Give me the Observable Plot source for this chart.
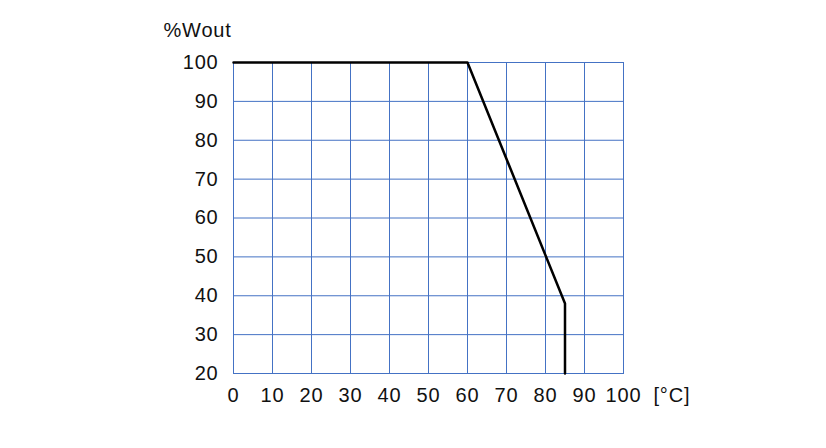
<!DOCTYPE html>
<html>
<head>
<meta charset="utf-8">
<script src="https://cdn.jsdelivr.net/npm/d3@7"></script>
<script src="https://cdn.jsdelivr.net/npm/@observablehq/plot@0.6"></script>
<style>
  html, body { margin: 0; padding: 0; background: #fff; }
  svg { font-family: "Liberation Sans", Arial, sans-serif; letter-spacing: 0.8px; }
</style>
</head>
<body>
<div id="chart"></div>
<script>
const temperature = [0, 60, 85, 85];
const outputPct = [100, 100, 38, 20];
const xTicks = [0, 10, 20, 30, 40, 50, 60, 70, 80, 90, 100];
const yTicks = [20, 30, 40, 50, 60, 70, 80, 90, 100];
const yTitle = "%Wout";
const xUnit = "[°C]";

const data = temperature.map((t, i) => ({t, p: outputPct[i]}));
const gridColor = "#4472c4";

const chart = Plot.plot({
  width: 826,
  height: 448,
  marginLeft: 233,
  marginRight: 203,
  marginTop: 62,
  marginBottom: 75,
  style: {fontSize: "20px", fontFamily: "'Liberation Sans', Arial, sans-serif", color: "#111"},
  x: {domain: [0, 100], ticks: xTicks, label: null, tickSize: 0, tickPadding: 14},
  y: {domain: [20, 100], ticks: yTicks, label: null, tickSize: 0, tickPadding: 15},
  marks: [
    Plot.gridX(xTicks, {stroke: gridColor, strokeOpacity: 1, strokeWidth: 1}),
    Plot.gridY(yTicks, {stroke: gridColor, strokeOpacity: 1, strokeWidth: 1}),
    Plot.frame({stroke: gridColor, strokeWidth: 1}),
    Plot.line(data, {x: "t", y: "p", stroke: "#000", strokeWidth: 2.5}),
    Plot.text([yTitle], {frameAnchor: "top-left", textAnchor: "start", lineAnchor: "middle", dx: -70, dy: -32, fontSize: 20, fill: "#111"}),
    Plot.text([xUnit], {frameAnchor: "bottom-right", textAnchor: "start", lineAnchor: "middle", dx: 30, dy: 22, fontSize: 20, fill: "#111"})
  ]
});
document.getElementById("chart").appendChild(chart);
</script>
</body>
</html>
